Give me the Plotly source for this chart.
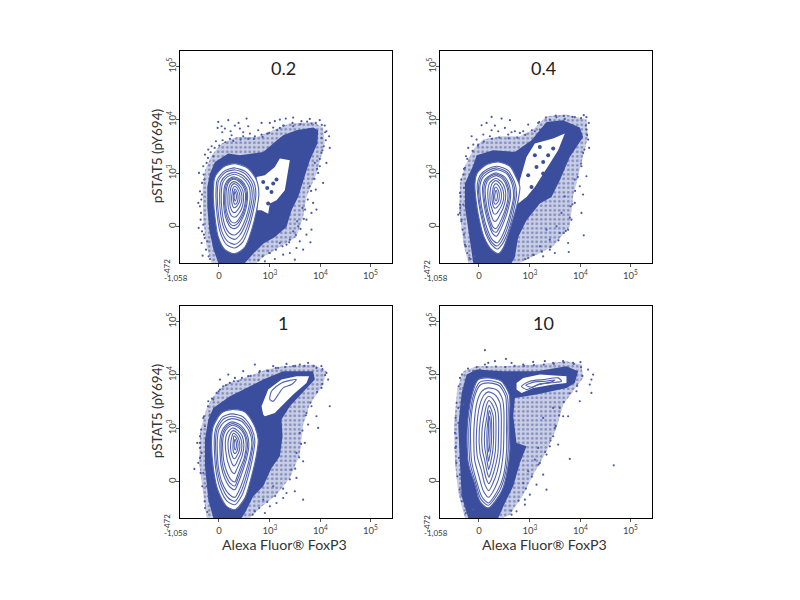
import plotly.graph_objects as go

# Values are biexponential display channels (160 channels per decade)
titles = ["0.2", "0.4", "1", "10"]
x_tick_channels = [117, 270, 422, 572]
y_tick_channels = [109, 269, 429, 589]
x_tick_labels = ["0", "10<sup>3</sup>", "10<sup>4</sup>", "10<sup>5</sup>"]
y_tick_labels = ["0", "10<sup>3</sup>", "10<sup>4</sup>", "10<sup>5</sup>"]

p1_contours = [
 [(165,298),(205,283),(230,248),(237,208),(230,158),(215,98),(195,48),(165,28),(135,40),(115,78),(105,138),(100,208),(105,258),(130,288)],
 [(165,285),(198,273),(222,242),(228,205),(220,155),(205,100),(188,62),(165,45),(140,55),(122,88),(112,140),(108,205),(112,250),(135,277)],
 [(165,279),(195,268),(217,238),(223,202),(215,155),(201,106),(185,72),(165,56),(143,65),(126,94),(116,142),(112,205),(116,247),(137,272)],
 [(165,272),(192,260),(212,234),(217,200),(209,155),(196,114),(180,84),(165,71),(146,79),(132,103),(122,147),(119,205),(123,243),(140,264)],
 [(164,266),(188,255),(207,230),(211,198),(204,155),(192,120),(178,94),(164,84),(148,90),(136,110),(127,150),(124,205),(128,240),(142,258)],
 [(164,258),(184,248),(200,225),(203,195),(197,158),(186,130),(175,110),(164,103),(151,108),(141,125),(133,155),(131,203),(135,234),(146,251)],
 [(163,254),(182,245),(197,222),(200,194),(194,159),(184,135),(173,118),(163,112),(152,116),(143,132),(136,158),(134,201),(138,231),(147,248)],
 [(163,251),(180,242),(194,220),(197,193),(191,160),(182,140),(172,125),(163,120),(153,125),(146,138),(139,162),(138,200),(141,228),(149,245)],
 [(163,244),(177,236),(189,216),(191,192),(186,165),(178,150),(170,140),(163,137),(155,141),(150,150),(145,168),(144,198),(146,222),(152,238)],
 [(163,238),(174,231),(184,212),(186,192),(181,172),(174,160),(168,153),(162,151),(157,155),(153,163),(150,174),(150,198),(151,216),(155,232)],
 [(164,230),(172,224),(179,208),(180,192),(176,178),(170,170),(165,166),(161,166),(158,172),(156,180),(155,198),(157,212),(159,224)],
 [(165,222),(170,216),(174,204),(174,190),(171,180),(167,176),(163,178),(161,186),(160,198),(161,210)],
 [(165,214),(169,205),(169,193),(166,186),(163,192),(163,204)],
]
p1_holes = [[(230,258),(255,263),(285,288),(300,313),(330,308),(325,278),(320,248),(315,218),(290,188),(270,178),(265,148),(245,158),(232,158),(237,208)]]
p1_dense = [(115,0),(100,43),(88,98),(82,168),(82,228),(90,268),(105,303),(145,328),(180,323),(210,328),(250,333),(285,363),(310,383),(350,398),(400,406),(415,398),(413,358),(390,308),(375,258),(355,198),(335,158),(320,108),(285,78),(250,58),(220,28),(195,0)]
p1_halo = [(95,0),(80,48),(70,128),(68,228),(75,278),(95,323),(125,358),(170,378),(230,378),(280,398),(330,418),(400,423),(430,406),(435,358),(410,268),(380,198),(370,138),(350,78),(300,48),(250,18),(230,0)]
p1_specks = [(250,243),(280,238),(275,213),(265,178),(290,250),(262,225),(335,330)]
p1_dots = [(115,423),(125,410),(113,405),(145,428),(135,403),(127,392),(152,395),(176,420),(200,433),(180,403),(165,412),(190,392),(155,383),(210,388),(205,410),(235,398),(225,380),(262,388),(245,420),(285,425),(300,430),(318,433),(340,436),(365,425),(390,432),(420,428),(395,418),(340,410),(310,412),(280,406),(270,420),(435,412),(448,380),(440,395),(450,345),(440,300),(425,330),(415,270),(430,240),(408,220),(400,180),(395,150),(410,160),(420,290),(380,130),(395,100),(360,65),(392,62),(370,40),(350,45),(330,30),(345,10),(310,25),(285,12),(270,30),(255,5),(300,60),(330,70),(355,110),(380,85),(340,95),(57,270),(70,290),(85,340),(75,325),(95,350),(108,365),(60,170),(66,205),(55,180),(62,130),(56,105),(70,115),(72,85),(65,60),(68,22),(90,12),(82,65),(60,215),(73,250),(80,300),(100,320),(128,368),(150,372),(190,380),(245,385),(300,405),(425,375),(432,350),(405,300),(390,230),(368,165),(352,125),(320,55),
 (78,40),(86,20),(74,75),(66,95),(63,150),(64,190),(66,240),(71,265),(84,315),(92,332),(104,345),(118,352),(136,362),(160,366),(182,370),(205,372),(222,372),(248,378),(268,390),(292,398),(312,412),(338,420),(362,416),(382,424),(408,420),(426,414),(436,392),(438,368),(428,338),(420,312),(412,282),(404,252),(394,216),(384,190),(376,160),(372,132),(362,102),(348,84),(328,62),(308,50),(288,40),(268,30),(248,20),(236,8)]

p2_contours = [
 [(175,303),(210,290),(232,250),(240,228),(235,190),(222,140),(205,85),(190,45),(175,28),(155,40),(132,78),(118,130),(108,190),(105,240),(112,270),(140,295)],
 [(172,290),(205,277),(225,240),(230,205),(220,150),(205,95),(188,58),(173,42),(155,55),(137,90),(125,135),(115,190),(112,235),(120,262),(143,282)],
 [(171,285),(202,272),(221,237),(225,202),(215,150),(201,100),(185,65),(172,51),(156,62),(139,96),(128,137),(118,190),(116,233),(124,259),(145,277)],
 [(170,280),(200,268),(217,235),(221,200),(211,150),(197,105),(182,72),(172,60),(157,70),(142,102),(131,140),(122,190),(120,232),(128,256),(147,272)],
 [(170,270),(194,258),(209,230),(212,197),(203,155),(190,118),(177,90),(170,80),(158,88),(147,115),(137,150),(130,192),(128,228),(135,250),(151,263)],
 [(170,266),(192,254),(205,227),(208,196),(199,157),(187,124),(175,100),(169,92),(158,98),(149,122),(140,154),(133,193),(132,226),(138,247),(152,260)],
 [(170,262),(190,250),(202,225),(204,195),(196,160),(184,130),(174,110),(168,103),(159,108),(151,128),(143,158),(137,195),(136,224),(142,245),(154,256)],
 [(168,254),(185,243),(196,220),(197,193),(190,165),(180,145),(172,130),(167,125),(160,128),(154,143),(148,165),(144,196),(144,220),(149,240),(158,249)],
 [(168,247),(180,238),(190,216),(191,192),(185,172),(177,158),(170,148),(165,146),(160,150),(157,160),(152,175),(150,197),(151,218),(155,235),(161,243)],
 [(168,238),(177,230),(184,212),(184,192),(179,176),(172,168),(166,164),(161,168),(158,178),(156,196),(158,214),(161,230)],
 [(168,228),(174,220),(178,206),(177,190),(172,180),(166,176),(162,182),(161,197),(162,212),(164,224)],
 [(169,218),(172,208),(172,194),(168,186),(165,192),(165,206)],
]
p2_holes = [[(240,248),(260,318),(285,358),(340,373),(375,388),(355,338),(330,298),(310,268),(285,228),(260,198),(235,178)]]
p2_dense = [(100,0),(90,68),(75,168),(75,238),(100,293),(110,323),(160,338),(225,333),(275,368),(320,423),(370,428),(420,406),(430,378),(390,318),(360,248),(335,198),(300,178),(260,128),(235,78),(225,18),(215,0)]
p2_halo = [(85,0),(70,60),(58,160),(60,240),(75,290),(100,340),(130,370),(180,380),(240,380),(280,400),(320,440),(380,445),(440,430),(445,380),(425,300),(400,200),(390,110),(340,50),(280,20),(240,0)]
p2_specks = [(310,303),(290,288),(265,263),(310,268),(275,228),(325,323),(300,348),(285,323),(340,343),(240,288)]
p2_dots = [(155,438),(125,413),(185,433),(210,428),(155,398),(140,420),(165,412),(175,395),(195,405),(225,395),(150,380),(130,385),(205,385),(240,390),(265,415),(285,395),(300,400),(330,430),(350,437),(375,432),(405,437),(432,443),(440,437),(447,420),(440,400),(445,370),(448,345),(430,330),(425,290),(440,260),(420,230),(430,205),(425,150),(405,180),(395,130),(385,100),(372,90),(385,60),(345,30),(330,70),(350,110),(310,20),(280,25),(265,15),(300,50),(320,100),(365,150),(375,200),(100,355),(85,345),(75,285),(70,265),(62,200),(60,150),(70,175),(55,145),(68,100),(75,55),(82,30),(92,12),(105,20),(95,380),(110,370),(72,225),(65,130),(60,175),(78,320),(115,355),(432,83),(387,33),(250,395),(215,392),(295,420),(405,250),(392,170),(360,90),(330,40),
 (88,15),(78,50),(72,85),(64,125),(61,165),(60,210),(64,250),(72,282),(82,312),(98,336),(114,352),(132,364),(156,372),(178,376),(206,374),(232,376),(256,384),(276,398),(298,422),(318,436),(348,442),(372,441),(398,438),(424,434),(438,412),(442,384),(434,340),(424,298),(414,258),(406,216),(398,176),(390,136),(378,96),(356,68),(332,48),(306,34),(282,24),(256,12)]

p3_contours = [
 [(155,325),(195,318),(222,280),(235,235),(228,180),(215,125),(195,60),(165,25),(140,35),(115,80),(100,150),(95,235),(100,275),(125,315)],
 [(155,312),(190,303),(215,270),(225,230),(217,175),(205,125),(187,70),(165,40),(142,50),(120,90),(107,150),(103,235),(108,270),(128,303)],
 [(156,305),(187,296),(211,266),(220,228),(212,175),(200,127),(183,78),(165,50),(145,60),(124,98),(111,152),(107,233),(112,268),(130,296)],
 [(156,298),(185,290),(207,262),(216,225),(208,175),(195,130),(180,88),(165,62),(147,72),(127,105),(115,155),(112,232),(117,265),(133,288)],
 [(156,288),(180,280),(200,255),(207,222),(200,178),(188,140),(175,105),(165,85),(150,93),(134,120),(123,160),(120,230),(125,258),(138,278)],
 [(157,283),(178,275),(196,252),(203,221),(196,179),(185,146),(173,115),(165,96),(151,104),(137,129),(127,164),(124,229),(129,256),(140,274)],
 [(157,278),(177,270),(193,250),(199,220),(193,180),(182,152),(172,125),(165,108),(153,115),(141,138),(132,168),(128,228),(133,255),(143,270)],
 [(158,270),(174,262),(187,245),(192,218),(187,187),(178,163),(170,145),(164,133),(156,138),(148,155),(141,178),(136,226),(140,250),(148,263)],
 [(159,262),(172,255),(182,240),(186,216),(182,192),(174,175),(168,162),(163,156),(158,160),(153,172),(148,188),(144,224),(148,245),(153,256)],
 [(160,254),(170,248),(177,235),(180,214),(176,196),(170,185),(165,178),(161,178),(157,186),(153,200),(152,222),(155,240)],
 [(162,246),(170,238),(174,225),(174,210),(170,198),(165,193),(161,197),(159,210),(160,230)],
 [(165,236),(169,226),(169,212),(166,204),(163,212),(163,226)],
 [(270,355),(275,380),(305,405),(350,415),(335,400),(310,390),(295,370),(280,350)],
]
p3_holes = [[(250,310),(245,335),(265,385),(305,415),(350,425),(388,425),(380,405),(340,370),(310,340),(285,315),(255,305)]]
p3_dense = [(100,0),(85,55),(75,155),(75,235),(85,295),(100,330),(150,365),(250,415),(310,440),(400,440),(405,415),(360,365),(330,335),(305,295),(308,245),(300,185),(275,150),(250,95),(220,65),(195,15),(185,0)]
p3_halo = [(80,0),(70,70),(58,160),(60,260),(80,330),(100,365),(135,400),(220,430),(260,445),(310,455),(400,460),(440,440),(430,400),(390,340),(370,280),(360,190),(330,120),(290,70),(240,30),(210,0)]
p3_specks = []
p3_dots = [(225,460),(120,415),(145,430),(150,405),(85,350),(100,355),(120,385),(190,440),(175,410),(265,440),(295,450),(340,455),(385,465),(360,460),(410,450),(440,435),(445,415),(425,390),(450,335),(410,305),(380,315),(415,270),(360,255),(350,195),(335,145),(345,80),(370,55),(320,75),(290,45),(250,55),(255,15),(280,95),(43,147),(55,165),(60,245),(75,275),(65,195),(70,135),(75,30),(85,65),(80,95),(90,310),(130,395),(165,420),(205,425),(240,440),(280,455),(320,462),(425,455),(395,335),(385,280),(375,225),(370,170),(350,120),(310,60),(270,35),(225,20),(60,210),(52,225),(70,300),(110,375),
 (82,18),(74,50),(67,95),(62,135),(60,180),(60,225),(64,265),(72,305),(84,335),(96,358),(116,380),(138,398),(162,410),(186,420),(212,426),(238,436),(262,442),(288,450),(316,452),(346,456),(374,456),(402,456),(428,446),(436,428),(428,402),(412,378),(392,346),(378,308),(368,262),(364,222),(358,182),(346,148),(330,116),(310,88),(286,66),(262,48),(238,30),(218,10)]

p4_contours = [
 [(145,420),(185,410),(208,370),(210,345),(208,270),(210,205),(200,130),(185,80),(145,30),(120,50),(105,100),(85,165),(82,275),(95,365),(115,415)],
 [(145,412),(181,403),(202,367),(205,337),(204,267),(205,202),(195,127),(178,80),(145,38),(122,58),(107,105),(90,167),(87,275),(99,362),(118,406)],
 [(145,405),(178,397),(197,365),(200,330),(200,265),(200,200),(190,125),(172,80),(145,45),(125,65),(110,110),(95,170),(92,275),(103,360),(120,398)],
 [(145,390),(172,383),(188,355),(192,320),(192,260),(190,195),(180,130),(165,90),(146,62),(130,82),(117,125),(104,175),(102,270),(112,350),(126,380)],
 [(145,378),(165,370),(180,345),(184,310),(184,255),(182,195),(172,140),(158,102),(147,82),(135,100),(125,140),(112,185),(110,265),(120,340),(132,368)],
 [(146,365),(160,355),(172,330),(176,300),(176,250),(174,195),(165,150),(155,118),(147,103),(138,120),(130,155),(120,195),(118,262),(128,330),(137,355)],
 [(147,352),(156,342),(166,318),(168,290),(168,245),(166,198),(160,165),(152,135),(147,122),(141,140),(135,170),(127,205),(126,260),(135,318),(141,342)],
 [(148,338),(154,325),(160,305),(161,280),(161,240),(159,205),(155,180),(150,158),(146,145),(143,160),(139,185),(134,215),(134,258),(141,305),(144,328)],
 [(148,322),(153,308),(155,285),(155,240),(153,210),(149,185),(146,170),(143,190),(141,222),(141,258),(145,300)],
 [(148,305),(151,285),(150,245),(149,215),(146,198),(144,225),(146,265),(146,290)],
 [(245,395),(270,410),(310,415),(355,420),(365,410),(330,405),(290,398),(260,385)],
 [(258,398),(285,408),(318,410),(345,414),(335,408),(300,402),(275,392)],
]
p4_holes = [[(230,405),(250,420),(300,430),(380,425),(380,405),(340,400),(280,390),(245,375),(230,385)]]
p4_dense = [(85,0),(65,65),(60,165),(55,275),(65,375),(80,430),(110,445),(190,440),(290,440),(380,455),(415,440),(405,405),(380,390),(290,370),(225,360),(220,305),(230,225),(260,215),(240,165),(220,95),(195,45),(175,0)]
p4_halo = [(75,0),(55,75),(45,165),(42,280),(52,390),(70,440),(110,455),(190,455),(290,460),(380,470),(425,460),(430,420),(400,380),(370,340),(350,270),(320,200),(280,130),(250,70),(210,10),(190,0)]
p4_specks = []
p4_dots = [(135,503),(198,477),(145,465),(120,445),(100,440),(60,420),(70,390),(70,340),(55,330),(50,240),(48,215),(55,285),(57,180),(60,130),(65,70),(75,35),(85,12),(100,25),(135,460),(165,470),(215,465),(250,460),(280,468),(315,470),(340,465),(370,470),(400,465),(422,467),(445,445),(460,430),(455,415),(450,400),(455,375),(410,380),(420,350),(385,305),(390,177),(522,158),(360,330),(370,305),(340,330),(345,270),(310,300),(330,215),(340,245),(320,190),(300,165),(310,130),(320,85),(290,100),(270,70),(255,40),(250,105),(265,140),(230,20),(255,55),(215,10),(285,175),(355,220),(295,210),
 (78,15),(66,50),(59,85),(52,125),(49,165),(46,210),(45,255),(47,300),(50,345),(56,395),(66,430),(84,448),(110,452),(140,452),(168,454),(196,452),(224,456),(252,456),(282,458),(312,460),(342,462),(372,466),(402,462),(424,452),(428,426),(412,396),(390,374),(372,348),(358,308),(348,276),(332,232),(316,198),(296,160),(276,124),(258,88),(236,52),(214,22)]

PANELS = [
    (180, 392, 50.5, 263, p1_contours, p1_holes, p1_dense, p1_halo, p1_specks, p1_dots),
    (440, 652, 50.5, 263, p2_contours, p2_holes, p2_dense, p2_halo, p2_specks, p2_dots),
    (180, 392, 305.5, 518, p3_contours, p3_holes, p3_dense, p3_halo, p3_specks, p3_dots),
    (440, 652, 305.5, 518, p4_contours, p4_holes, p4_dense, p4_halo, p4_specks, p4_dots),
]
W, H = 800, 600
BLUE = "#3b4e9e"
FONT = "Lato"

def xs(pts, close=False):
    v = [p[0] for p in pts]
    return v + v[:1] if close else v

def ys(pts, close=False):
    v = [p[1] for p in pts]
    return v + v[:1] if close else v

fig = go.Figure()
anns = []
layout = {}
for i, (l, r, t, b, contours, holes, dense, halo, specks, dots) in enumerate(PANELS):
    n = i + 1
    xa, ya = f"x{n}", f"y{n}"
    fill = dict(mode="lines", fill="toself", hoverinfo="skip", showlegend=False, xaxis=xa, yaxis=ya)
    fig.add_trace(go.Scatter(x=xs(halo, True), y=ys(halo, True), fillcolor="rgba(59,78,158,0.3)",
                             fillpattern=dict(shape=".", size=4.5, solidity=0.3, fgcolor=BLUE, bgcolor="rgba(59,78,158,0.28)"),
                             line=dict(width=0), **fill))
    fig.add_trace(go.Scatter(x=xs(dense, True), y=ys(dense, True), fillcolor=BLUE, line=dict(width=0), **fill))
    fig.add_trace(go.Scatter(x=xs(contours[0], True), y=ys(contours[0], True), fillcolor="white", line=dict(width=0), line_shape="spline", **fill))
    for h in holes:
        fig.add_trace(go.Scatter(x=xs(h, True), y=ys(h, True), fillcolor="white", line=dict(width=0), **fill))
    if specks:
        fig.add_trace(go.Scatter(x=xs(specks), y=ys(specks), mode="markers", marker=dict(size=4, color=BLUE),
                                 hoverinfo="skip", showlegend=False, xaxis=xa, yaxis=ya))
    for c in contours:
        fig.add_trace(go.Scatter(x=xs(c, True), y=ys(c, True), mode="lines",
                                 line=dict(color="#5263ad", width=1.1, shape="spline", smoothing=0.7),
                                 hoverinfo="skip", showlegend=False, xaxis=xa, yaxis=ya))
    fig.add_trace(go.Scatter(x=xs(dots), y=ys(dots), mode="markers", marker=dict(size=2.2, color="#4a5ca8"),
                             hoverinfo="skip", showlegend=False, xaxis=xa, yaxis=ya))
    common = dict(showgrid=False, zeroline=False, showline=True, mirror=True, linecolor="black", linewidth=1.3,
                  ticks="outside", ticklen=3, tickwidth=1, tickcolor="#555", range=[0, 637],
                  tickfont=dict(family=FONT, size=9.5, color="#444"), tickmode="array")
    layout[f"xaxis{n}"] = dict(domain=[l / W, r / W], anchor=ya, tickvals=x_tick_channels, ticktext=x_tick_labels, **common)
    layout[f"yaxis{n}"] = dict(domain=[1 - b / H, 1 - t / H], anchor=xa, tickvals=y_tick_channels, ticktext=y_tick_labels,
                               tickangle=-90, ticklabelstandoff=-4, **common)
    def ann(text, px, py, size, angle=0, color="#333"):
        anns.append(dict(text=text, x=px / W, y=1 - py / H, xref="paper", yref="paper", showarrow=False,
                         xanchor="center", yanchor="middle", textangle=angle,
                         font=dict(family=FONT, size=size, color=color)))
    ann(titles[i], l + 103, t + 17, 18, color="#222")
    ann("-472", l - 13, b + 5, 8, angle=-90)
    ann("-1,058", l - 4, b + 14.5, 8)
    if l == 180:
        ann("pSTAT5 (pY694)", 157, (t + b) / 2 - 0.5, 13.5, angle=-90)
    if t > 300:
        ann("Alexa Fluor® FoxP3", l + 104, 544, 14.2)

fig.update_layout(width=W, height=H, margin=dict(l=0, r=0, t=0, b=0), plot_bgcolor="white", paper_bgcolor="white",
                  showlegend=False, annotations=anns, **layout)
fig.write_html("out.html", config={"displayModeBar": False}, post_script="document.body.style.margin='0';")
